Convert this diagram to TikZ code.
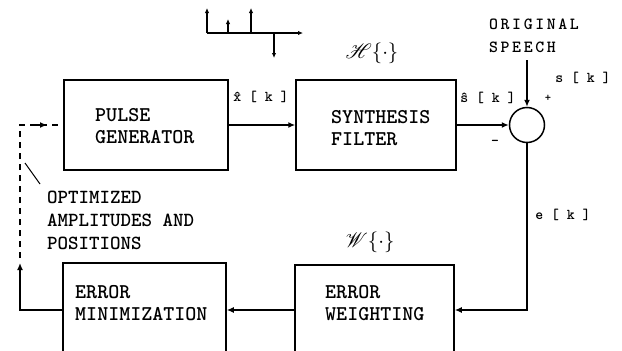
\documentclass[tikz,border=0pt]{standalone}
\usepackage{mathrsfs}
\usepackage{fontspec}
\newfontfamily\twfont{lmmonolt10-bold.otf}
\usetikzlibrary{arrows.meta}
\def\myLsp#1{\myLspAux#1\relax}
\def\myLspAux#1{\ifx#1\relax\else#1\kern2.6pt\expandafter\myLspAux\fi}
\tikzset{
 box/.style={draw, line width=1.5pt, inner sep=0pt},
 ln/.style={line width=1.4pt},
 arr/.style={ln, -{Latex[length=7pt,width=6pt]}},
 sarr/.style={ln, -{Latex[length=5pt,width=4.5pt]}},
 lbl/.style={font=\twfont\fontsize{21}{22}\selectfont, align=left, inner sep=0pt, anchor=west},
 sml/.style={font=\twfont\fontsize{15}{17}\selectfont, inner sep=0pt},
 dsh/.style={ln, dash pattern=on 6pt off 5pt},
}
\begin{document}
\begin{tikzpicture}[x=1pt,y=-1pt]
\useasboundingbox (0,0) rectangle (622,351);
\clip (0,0) rectangle (622,351);
% boxes
\node[box, minimum width=164pt, minimum height=90pt] (pg) at (146,125) {};
\node[box, minimum width=160pt, minimum height=90pt] (sf) at (376,125) {};
\node[draw, line width=1.5pt, circle, minimum size=35pt, inner sep=0pt] (sum) at (527,125) {};
\node[box, minimum width=163pt, minimum height=94pt] (em) at (144.5,310) {};
\node[box, minimum width=159pt, minimum height=90pt] (ew) at (374.5,310) {};
% box texts
\node[lbl] (pgt) at (95,126) {PULSE\\GENERATOR};
\node[lbl] (sft) at (331,128) {SYNTHESIS\\FILTER};
\node[lbl] (emt) at (75,303) {ERROR\\MINIMIZATION};
\node[lbl] (ewt) at (325,303.5) {ERROR\\WEIGHTING};
\node[lbl, font=\twfont\fontsize{20}{23}\selectfont] (opt) at (47,220) {OPTIMIZED\\AMPLITUDES AND\\POSITIONS};
\node[lbl, font=\twfont\fontsize{17}{23}\selectfont] (orig) at (489,36) {\myLsp{ORIGINAL}\\\myLsp{SPEECH}};
% connectors
\coordinate (sp) at (527,60);
\draw[arr] (sp) -- (sum.north);
\draw[arr] (pg.east) -- (sf.west);
\draw[arr] (sf.east) -- (sum.west);
\draw[arr] (sum.south) |- (ew.east);
\draw[arr] (ew.west) -- (em.east);
\coordinate (fb) at (20,263);
\draw[arr] (em.west) -| (fb);
\coordinate (fbs) at (20,258);
\coordinate (fbt) at (20,125);
\draw[dsh] (fbs) -- (fbt) -- (pg.west);
\coordinate (ma) at (36,125);
\coordinate (mb) at (47,125);
\draw[arr] (ma) -- (mb);
\coordinate (l1) at (25,163);
\coordinate (l2) at (40,184);
\draw[line width=1pt] (l1) -- (l2);
% pulse train
\coordinate (p0) at (207,33);
\coordinate (pe) at (303,33);
\draw[sarr] (p0) -- (pe);
\coordinate (q1) at (207,8);
\draw[sarr] (p0) -- (q1);
\coordinate (b2) at (228,33); \coordinate (q2) at (228,19);
\draw[sarr] (b2) -- (q2);
\coordinate (b3) at (251,33); \coordinate (q3) at (251,8);
\draw[sarr] (b3) -- (q3);
\coordinate (b4) at (274,33); \coordinate (q4) at (274,58);
\draw[sarr] (b4) -- (q4);
% labels
\node[sml] (xk) at (261,97) {\^x [ k ]};
\node[sml] (shk) at (488,98) {\^s [ k ]};
\node[sml] (sk) at (583,78) {s [ k ]};
\node[sml, font=\twfont\fontsize{12}{14}\selectfont] (pl) at (548,98) {+};
\node[sml] (mi) at (495,143) {-};
\node[sml] (ek) at (563,215) {e [ k ]};
\node[inner sep=0pt, font=\fontsize{22}{24}\selectfont] (H) at (372,53) {$\mathscr{H}\{\cdot\}$};
\node[inner sep=0pt, font=\fontsize{22}{24}\selectfont] (W) at (370,242) {$\mathscr{W}\{\cdot\}$};
\end{tikzpicture}
\end{document}
